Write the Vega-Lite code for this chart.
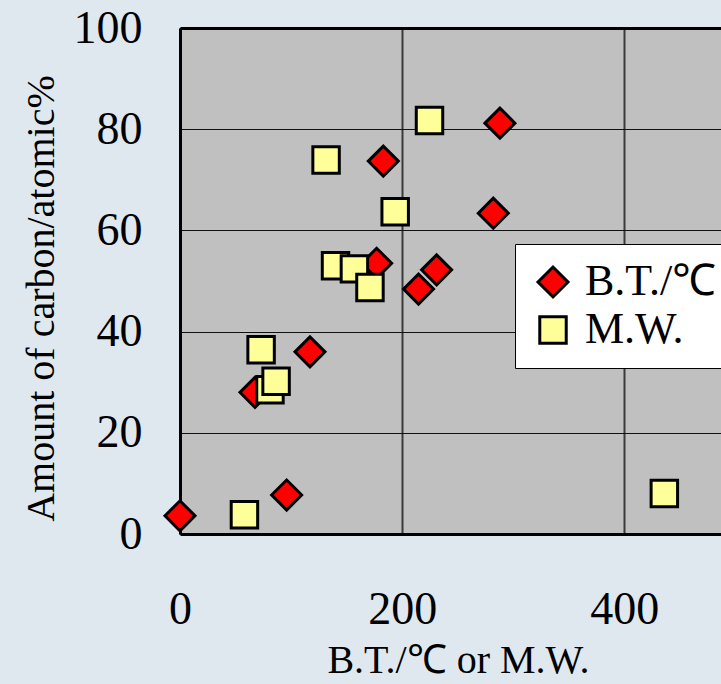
{
  "$schema": "https://vega.github.io/schema/vega-lite/v6.json",
  "width": 541,
  "height": 506,
  "autosize": {"type": "none"},
  "padding": {"left": 180, "top": 28, "right": 0, "bottom": 150},
  "background": "#e0e8ef",
  "config": {
    "view": {"stroke": null, "fill": "#c0c0c0"},
    "font": "Liberation Serif",
    "axis": {"labelFont": "Liberation Serif", "titleFont": "Liberation Serif", "labelColor": "#000000", "titleColor": "#000000", "titleFontWeight": "normal"},
    "legend": {"labelFont": "Liberation Serif", "symbolStrokeColor": "#000000", "symbolStrokeWidth": 3,
               "title": null, "orient": "none", "legendX": 335, "legendY": 216,
               "fillColor": "#ffffff", "strokeColor": "#000000",
               "padding": 16, "rowPadding": 4, "labelFontSize": 44, "labelColor": "#000000",
               "labelOffset": 10, "symbolOpacity": 1}
  },
  "data": {
    "values": [
      {"series": "B.T./℃", "x": 0, "y": 3.6},
      {"series": "B.T./℃", "x": 96, "y": 7.7},
      {"series": "B.T./℃", "x": 67.5, "y": 28},
      {"series": "B.T./℃", "x": 117, "y": 36},
      {"series": "B.T./℃", "x": 177, "y": 53.5},
      {"series": "B.T./℃", "x": 214.7, "y": 48.4},
      {"series": "B.T./℃", "x": 231, "y": 52.2},
      {"series": "B.T./℃", "x": 183, "y": 73.7},
      {"series": "B.T./℃", "x": 282, "y": 63.4},
      {"series": "B.T./℃", "x": 288, "y": 81.2},
      {"series": "M.W.", "x": 58, "y": 3.8},
      {"series": "M.W.", "x": 436, "y": 8.0},
      {"series": "M.W.", "x": 81, "y": 28.5},
      {"series": "M.W.", "x": 86.5, "y": 30.2},
      {"series": "M.W.", "x": 73, "y": 36.4},
      {"series": "M.W.", "x": 140, "y": 53},
      {"series": "M.W.", "x": 157, "y": 52.4},
      {"series": "M.W.", "x": 171, "y": 48.7},
      {"series": "M.W.", "x": 193.7, "y": 63.7},
      {"series": "M.W.", "x": 131.5, "y": 73.9},
      {"series": "M.W.", "x": 224.6, "y": 81.7}
    ]
  },
  "resolve": {"axis": {"x": "independent"}},
  "layer": [
    {
      "mark": {"type": "point", "filled": true, "opacity": 1, "strokeWidth": 3, "strokeOpacity": 1},
      "encoding": {
        "x": {
          "field": "x", "type": "quantitative",
          "scale": {"domain": [0, 487], "nice": false, "zero": false},
          "axis": {
            "values": [0, 200, 400], "ticks": false, "labelFlush": false, "labelOverlap": false,
            "labelFontSize": 46, "labelPadding": 53, "labelBaseline": "top",
            "domain": true, "domainColor": "#000000", "domainWidth": 3,
            "grid": true, "gridColor": "#3a3a3a", "gridWidth": 2, "gridOpacity": 1,
            "title": "B.T./℃ or M.W.", "titleFontSize": 40, "titleX": 278, "titleY": 138,
            "titleAlign": "center", "titleBaseline": "alphabetic"
          }
        },
        "y": {
          "field": "y", "type": "quantitative",
          "scale": {"domain": [0, 100], "nice": false},
          "axis": {
            "values": [0, 20, 40, 60, 80, 100], "ticks": false, "labelFlush": false, "labelOverlap": false,
            "labelFontSize": 46, "labelPadding": 38,
            "domain": true, "domainColor": "#000000", "domainWidth": 3,
            "grid": true, "gridColor": "#111111", "gridWidth": 1, "gridOpacity": 1,
            "title": "Amount of carbon/atomic%", "titleFontSize": 40, "titleAngle": -90,
            "titleX": -127, "titleY": 270, "titleAlign": "center", "titleBaseline": "alphabetic"
          }
        },
        "shape": {
          "field": "series", "type": "nominal",
          "scale": {"domain": ["B.T./℃", "M.W."], "range": ["diamond", "square"]}
        },
        "fill": {
          "field": "series", "type": "nominal",
          "scale": {"domain": ["B.T./℃", "M.W."], "range": ["#ff0000", "#ffff99"]}
        },
        "stroke": {
          "field": "series", "type": "nominal",
          "scale": {"domain": ["B.T./℃", "M.W."], "range": ["#000000", "#000000"]}
        },
        "size": {
          "field": "series", "type": "nominal",
          "scale": {"domain": ["B.T./℃", "M.W."], "range": [900, 700]}
        }
      }
    },
    {
      "mark": {"type": "point", "opacity": 0},
      "encoding": {
        "x": {
          "field": "x", "type": "quantitative",
          "axis": {"orient": "top", "labels": false, "ticks": false, "grid": false, "title": null,
                   "domain": true, "domainColor": "#000000", "domainWidth": 3}
        }
      }
    }
  ]
}
